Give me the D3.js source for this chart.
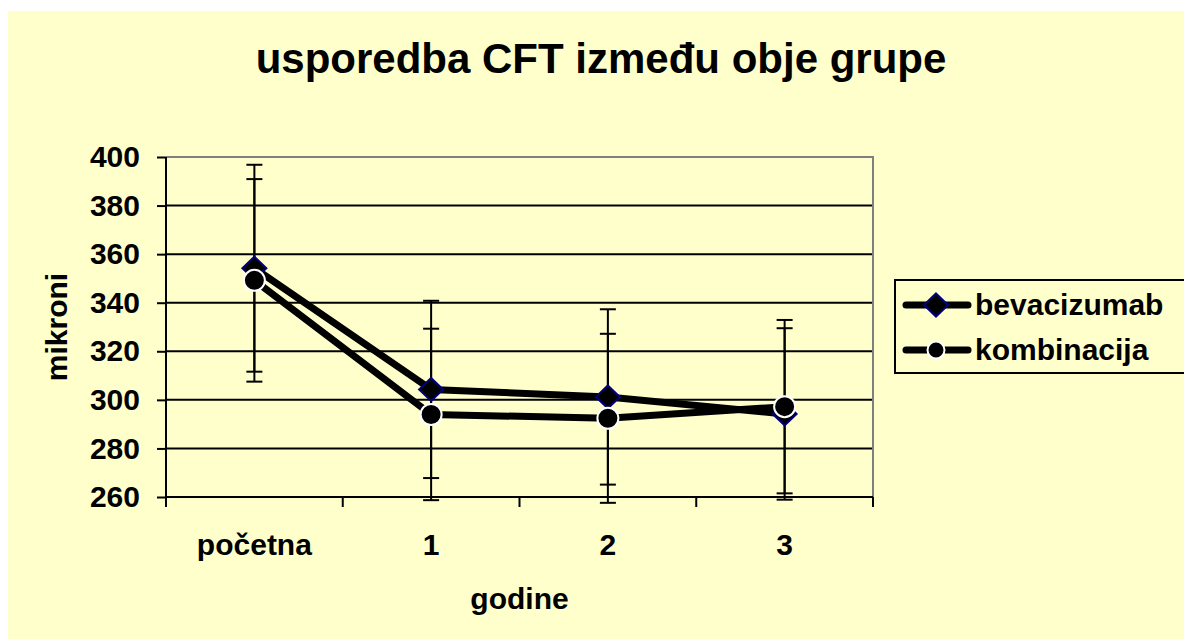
<!DOCTYPE html>
<meta charset="utf-8">
<style>
body { margin: 0; background: #fff; }
text { font-family: Arial, "Liberation Sans", sans-serif; font-weight: bold; fill: #000; }
.grid line { stroke: #000; stroke-width: 2px; }
.axis path { display: none; }
.axis line { stroke: #000; stroke-width: 2px; }
.axis text { font-size: 30px; }
.errbar { stroke: #000; stroke-width: 2px; }
.series { fill: none; stroke: #000; stroke-width: 7px; stroke-linejoin: round; }
.diamond { fill: #000; stroke: #000080; stroke-width: 2px; }
.dot { fill: #000; stroke: #fff; stroke-width: 2px; }
</style>
<svg width="1184" height="639"></svg>
<script src="https://d3js.org/d3.v7.min.js"></script>
<script>

var categories = ["početna", "1", "2", "3"];
var yTicks = [260, 280, 300, 320, 340, 360, 380, 400];
var bevacizumab = [354.2, 304.3, 301.2, 294.2];
var bevacizumabErr = [42.6, 36.5, 36.1, 35.3];
var kombinacija = [349.2, 294.0, 292.4, 297.2];
var kombinacijaErr = [41.7, 35.3, 34.8, 35.7];
var seriesNames = ["bevacizumab", "kombinacija"];

var svg = d3.select("svg");

// chart area background
svg.append("rect")
    .attr("x", 8).attr("y", 11)
    .attr("width", 1184).attr("height", 639)
    .attr("fill", "#ffffcc");

var plot = {left: 166, right: 873, top: 157, bottom: 497};

var x = d3.scaleBand()
    .domain(categories)
    .range([plot.left, plot.right]);

var y = d3.scaleLinear()
    .domain([260, 400])
    .range([plot.bottom, plot.top]);

var cx = function(d, i) { return x(categories[i]) + x.bandwidth() / 2; };

// gridlines
svg.append("g")
    .attr("class", "grid")
  .selectAll("line")
  .data(yTicks.slice(1, -1))
  .enter().append("line")
    .attr("x1", plot.left).attr("x2", plot.right)
    .attr("y1", y).attr("y2", y);

// plot border (top + right, grey)
svg.append("path")
    .attr("d", "M" + plot.left + "," + y(400) + "H" + plot.right + "V" + plot.bottom)
    .attr("fill", "none")
    .attr("stroke", "#808080")
    .attr("stroke-width", 2);

// y axis
var yAxis = svg.append("g")
    .attr("class", "axis")
    .attr("transform", "translate(" + plot.left + ",0)")
    .call(d3.axisLeft(y).tickValues(yTicks).tickSize(9).tickSizeOuter(0).tickPadding(17));
yAxis.append("line")
    .attr("x1", 0).attr("x2", 0)
    .attr("y1", plot.top).attr("y2", plot.bottom);

// x axis: labels at centres, ticks between categories
var xAxis = svg.append("g")
    .attr("class", "axis")
    .attr("transform", "translate(0," + plot.bottom + ")")
    .call(d3.axisBottom(x).tickSize(0).tickPadding(37));
xAxis.append("line")
    .attr("x1", plot.left).attr("x2", plot.right);
xAxis.selectAll(".between")
  .data(categories.map(function(c) { return x(c); }).concat([plot.right]))
  .enter().append("line")
    .attr("class", "between")
    .attr("x1", function(d) { return d; }).attr("x2", function(d) { return d; })
    .attr("y1", 0).attr("y2", 10);

// axis titles
svg.append("text")
    .attr("x", 601).attr("y", 73)
    .attr("text-anchor", "middle")
    .style("font-size", "42px")
    .text("usporedba CFT između obje grupe");

svg.append("text")
    .attr("x", (plot.left + plot.right) / 2).attr("y", 609)
    .attr("text-anchor", "middle")
    .style("font-size", "30px")
    .text("godine");

svg.append("text")
    .attr("transform", "translate(67," + (plot.top + plot.bottom) / 2 + ") rotate(-90)")
    .attr("text-anchor", "middle")
    .style("font-size", "30px")
    .text("mikroni");

// error bars
function errorBars(values, errs) {
  var g = svg.append("g").attr("class", "errbar");
  values.forEach(function(v, i) {
    var px = cx(v, i);
    g.append("line").attr("x1", px).attr("x2", px).attr("y1", y(v + errs[i])).attr("y2", y(v - errs[i]));
    g.append("line").attr("x1", px - 8).attr("x2", px + 8).attr("y1", y(v + errs[i])).attr("y2", y(v + errs[i]));
    g.append("line").attr("x1", px - 8).attr("x2", px + 8).attr("y1", y(v - errs[i])).attr("y2", y(v - errs[i]));
  });
}
errorBars(bevacizumab, bevacizumabErr);
errorBars(kombinacija, kombinacijaErr);

var line = d3.line()
    .x(cx)
    .y(function(d) { return y(d); });

svg.append("path").attr("class", "series").attr("d", line(bevacizumab));
svg.append("path").attr("class", "series").attr("d", line(kombinacija));

var diamond = "M0,-11.5L12,0L0,11.5L-12,0Z";

svg.append("g").selectAll("path")
  .data(bevacizumab)
  .enter().append("path")
    .attr("class", "diamond")
    .attr("d", diamond)
    .attr("transform", function(d, i) { return "translate(" + cx(d, i) + "," + y(d) + ")"; });

svg.append("g").selectAll("circle")
  .data(kombinacija)
  .enter().append("circle")
    .attr("class", "dot")
    .attr("r", 10.5)
    .attr("cx", cx)
    .attr("cy", function(d) { return y(d); });

// legend
var legend = svg.append("g");
legend.append("rect")
    .attr("x", 895).attr("y", 280)
    .attr("width", 300).attr("height", 93)
    .attr("fill", "none")
    .attr("stroke", "#000")
    .attr("stroke-width", 2);

var rows = legend.selectAll(".row")
  .data(seriesNames)
  .enter().append("g")
    .attr("class", "row")
    .attr("transform", function(d, i) { return "translate(0," + (305 + i * 45) + ")"; });

rows.append("line")
    .attr("x1", 906).attr("x2", 968)
    .attr("stroke", "#000")
    .attr("stroke-width", 7)
    .attr("stroke-linecap", "round");

rows.filter(function(d, i) { return i === 0; }).append("path")
    .attr("class", "diamond")
    .attr("d", diamond)
    .attr("transform", "translate(936,0)");

rows.filter(function(d, i) { return i === 1; }).append("circle")
    .attr("class", "dot")
    .attr("cx", 936)
    .attr("r", 8.5);

rows.append("text")
    .attr("x", 975).attr("y", 10)
    .style("font-size", "30px")
    .text(function(d) { return d; });

</script>
